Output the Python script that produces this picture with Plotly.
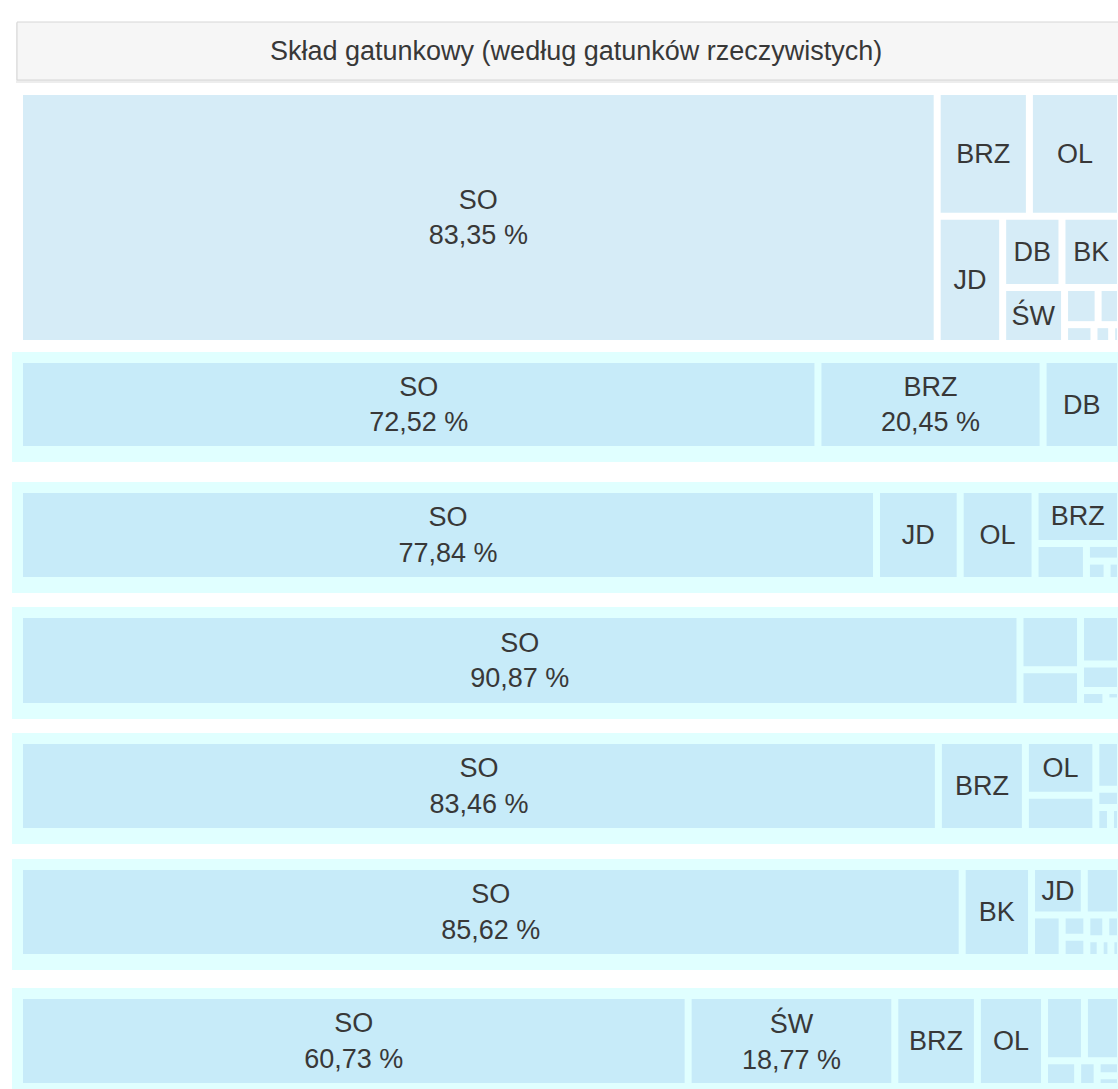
import plotly.graph_objects as go

W, H = 1140, 1100

title_text = "Skład gatunkowy (według gatunków rzeczywistych)"
root_label = "Razem"

p1_labels = ["SO", "BRZ", "OL", "JD", "DB", "BK", "ŚW", "MD", "GB", "AK", "LP", "OS"]
p1_values = [83.35, 4.15, 4.10, 3.00, 1.52, 1.50, 1.25, 0.45, 0.30, 0.20, 0.12, 0.06]

p2_labels = ["SO", "BRZ", "DB"]
p2_values = [72.52, 20.45, 7.03]

p3_labels = ["SO", "JD", "OL", "BRZ", "DB", "BK", "ŚW", "GB"]
p3_values = [77.84, 7.60, 6.80, 4.60, 1.90, 0.60, 0.40, 0.26]

p4_labels = ["SO", "BRZ", "JD", "OL", "DB", "BK", "ŚW", "GB"]
p4_values = [90.87, 3.30, 2.20, 1.95, 1.05, 0.40, 0.15, 0.08]

p5_labels = ["SO", "BRZ", "OL", "DB", "JD", "BK", "ŚW", "GB"]
p5_values = [83.46, 7.90, 3.85, 2.55, 1.20, 0.45, 0.35, 0.24]

p6_labels = ["SO", "BK", "JD", "OL", "BRZ", "DB", "ŚW", "GB", "MD", "AK", "LP", "OS"]
p6_values = [85.62, 6.30, 2.55, 1.75, 1.30, 0.55, 0.50, 0.45, 0.35, 0.25, 0.20, 0.18]

p7_labels = ["SO", "ŚW", "BRZ", "OL", "DB", "JD", "BK", "MD", "GB", "AK"]
p7_values = [60.73, 18.77, 7.50, 6.10, 2.60, 2.35, 0.85, 0.50, 0.35, 0.25]

PCT_LABEL_MIN = 15  # cells at or above this share show their percentage

FONT = "Liberation Sans, Arial, sans-serif"
TEXT_COLOR = "#383838"
FRAME = "#e0ffff"
CELL = "#c7ebf9"
CELL_TOP = "#d6ecf7"

# (labels, values, frame top px, frame bottom px, root colour, cell colour)
panels = [
    (p1_labels, p1_values, 84, 356, "#ffffff", CELL_TOP),
    (p2_labels, p2_values, 352, 462, FRAME, CELL),
    (p3_labels, p3_values, 482, 593, FRAME, CELL),
    (p4_labels, p4_values, 607, 719, FRAME, CELL),
    (p5_labels, p5_values, 733, 844, FRAME, CELL),
    (p6_labels, p6_values, 859, 970, FRAME, CELL),
    (p7_labels, p7_values, 988, 1099, FRAME, CELL),
]

fig = go.Figure()
for labs, vals, y0, y1, rc, cc in panels:
    labels = [root_label] + list(labs)
    parents = [""] + [root_label] * len(labs)
    values = [0] + list(vals)
    tt = [""] + [("%{label}<br>%{value:.2f} %" if v >= PCT_LABEL_MIN else "%{label}") for v in vals]
    fig.add_trace(go.Treemap(
        labels=labels, parents=parents, values=values,
        branchvalues="remainder", sort=True,
        domain=dict(x=[12 / W, 1128 / W], y=[1 - y1 / H, 1 - y0 / H]),
        marker=dict(colors=[rc] + [cc] * len(labs), line=dict(width=0),
                    pad=dict(t=11, l=11, r=11, b=16)),
        tiling=dict(packing="squarify", squarifyratio=1, pad=7),
        pathbar=dict(visible=False),
        texttemplate=tt, textposition="middle center",
        textfont=dict(family=FONT, size=27, color=TEXT_COLOR),
        hoverinfo="skip",
        root=dict(color=rc),
    ))

fig.update_layout(
    width=W, height=H,
    margin=dict(l=0, r=0, t=0, b=0),
    paper_bgcolor="white",
    separators=", ",
    uniformtext=dict(minsize=27, mode="hide"),
    shapes=[
        dict(type="rect", xref="paper", yref="paper",
             x0=16 / W, x1=1136 / W, y0=1 - 83 / H, y1=1 - 23 / H,
             fillcolor="rgba(0,0,0,0.07)", line=dict(width=0), layer="below"),
        dict(type="rect", xref="paper", yref="paper",
             x0=17 / W, x1=1135 / W, y0=1 - 80 / H, y1=1 - 22 / H,
             fillcolor="#f6f6f6", line=dict(color="#d6d6d6", width=1), layer="below"),
    ],
    annotations=[
        dict(text=title_text, xref="paper", yref="paper",
             x=576 / W, y=1 - 51 / H, xanchor="center", yanchor="middle",
             showarrow=False, font=dict(family=FONT, size=27, color=TEXT_COLOR)),
    ],
)

fig.write_html("out.html", config={"displayModeBar": False},
               post_script="document.body.style.margin='0';document.body.style.overflow='hidden';")
